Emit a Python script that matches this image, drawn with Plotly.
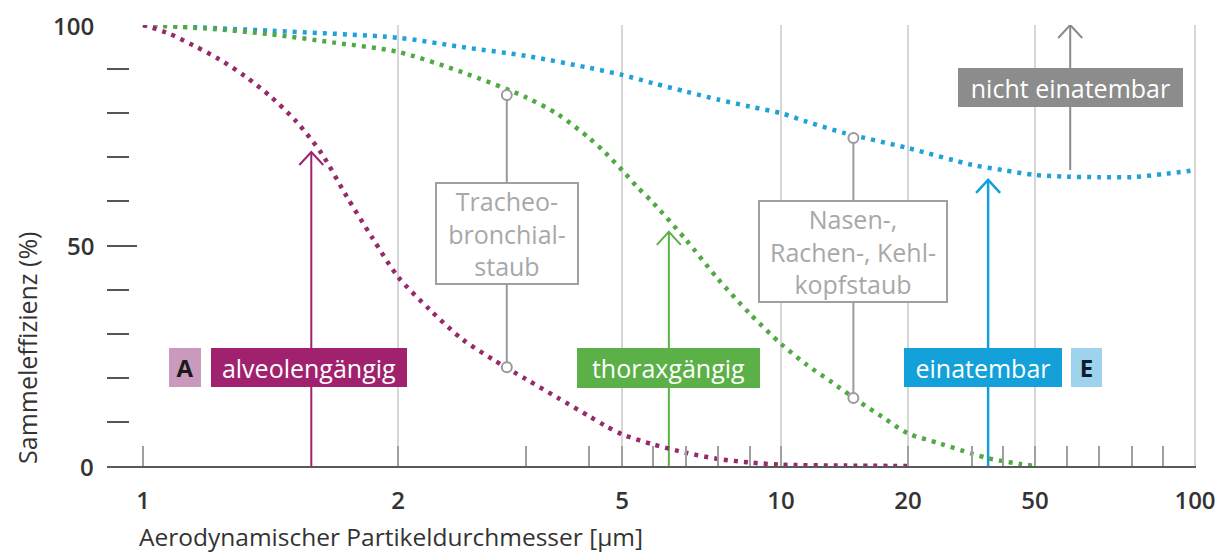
import numpy as np
import plotly.graph_objects as go

# ---------------- data ----------------
X_TICK_D = [1, 2, 5, 10, 20, 50, 100]
X_TICK_TEXT = ["1", "2", "5", "10", "20", "50", "100"]
X_MINOR_D = [3, 4, 6, 7, 8, 9, 30, 40, 60, 70, 80, 90]
GRID_D = [2, 5, 10, 20, 50, 100]
Y_TICKS = [0, 50, 100]
Y_TICK_TEXT = ["0", "50", "100"]
Y_MINOR = [10, 20, 30, 40, 60, 70, 80, 90]

# alveolengängig (respirable)
ALV_D = [1.0, 1.1, 1.2, 1.3, 1.4, 1.5, 1.6, 1.7, 1.8, 1.9, 2.0, 2.25, 2.5, 2.75,
         3.0, 3.5, 4.0, 4.5, 5, 6, 7, 8, 9, 10, 15, 20]
ALV_E = [100, 98.1, 95.3, 92.2, 88.4, 83.8, 78.2, 70.9, 61.0, 51.7, 42.9, 35.4, 28.8, 24.0,
         19.7, 15.5, 11.3, 9.1, 7.2, 4.9, 3.0, 1.6, 0.8, 0.3, 0.1, 0]

# thoraxgängig (thoracic)
THX_D = [1, 1.25, 1.5, 1.75, 2, 2.5, 3, 3.5, 4, 4.5, 5, 5.5, 6, 7, 8, 9, 10,
         12, 14, 16, 18, 20, 25, 30, 35, 40, 45, 50]
THX_E = [100, 99.2, 97.9, 96.0, 93.9, 89.3, 83.6, 79.8, 74.4, 71.0, 67.1, 63.2, 59.7,
         51.3, 42.4, 34.5, 27.7, 23.0, 19.0, 14.9, 11.1, 7.4, 5.1, 2.8, 1.8, 1.1, 0.5, 0]

# einatembar (inhalable)
INH_D = [1, 1.5, 2, 2.5, 3, 4, 5, 6, 7, 8, 9, 10, 12, 15, 20, 30, 40, 50, 60, 70, 80, 90, 100]
INH_E = [100, 98.7, 97.1, 95.0, 93.0, 90.3, 88.7, 86.8, 84.9, 83.1, 81.5, 80.0, 78.1, 75.5,
         72.1, 68.3, 67.1, 66.0, 65.6, 65.5, 65.5, 66.2, 67.1]

# fraction markers (diameter, lower %, upper %)
TRACHEO_D, TRACHEO_LO, TRACHEO_HI = 2.85, 22.4, 84.1
NASEN_D, NASEN_LO, NASEN_HI = 15.7, 15.4, 74.4

# arrows (diameter, tip %)
ARROW_ALV = (1.66, 71.2)
ARROW_THX = (6.48, 53.1)
ARROW_INH = (35.2, 64.9)
ARROW_NOT = (61.0, 67.1, 100.0)   # diameter, start %, tip %

# ---------------- the chart's own (non-logarithmic) x scale ----------------
AXIS_D = [1, 2, 3, 4, 5, 6, 7, 8, 9, 10, 20, 30, 40, 50, 60, 70, 80, 90, 100]
AXIS_POS = [0, 255, 383, 446, 479, 510, 543, 575, 607, 638, 765, 829, 860, 892,
            924, 956, 989, 1020, 1052]
X_RANGE = [-36, 1053]


def xs(d):
    return np.interp(np.asarray(d, dtype=float), AXIS_D, AXIS_POS).tolist()


FONT = "Open Sans"
C_ALV, C_ALV_BOX, C_ALV_LIGHT = "#962A6C", "#A0226E", "#C99ABB"
C_THX, C_THX_BOX = "#52A845", "#5BB147"
C_INH, C_INH_BOX, C_INH_LIGHT = "#1FA2D8", "#14A0D8", "#9DD3EC"
C_GREY_BOX = "#8C8C8C"
C_CONN = "#9A9A9A"
C_TXT = "#333333"

fig = go.Figure()

dot = "4px,6px"
for d, e, c in [(INH_D, INH_E, C_INH), (THX_D, THX_E, C_THX), (ALV_D, ALV_E, C_ALV)]:
    fig.add_trace(go.Scatter(
        x=xs(d), y=e, mode="lines",
        line=dict(color=c, width=4.5, dash=dot, shape="spline", smoothing=0.8),
        cliponaxis=False, hoverinfo="skip"))

# circles at the ends of the fraction connectors
fig.add_trace(go.Scatter(
    x=xs([TRACHEO_D, TRACHEO_D, NASEN_D, NASEN_D]),
    y=[TRACHEO_HI, TRACHEO_LO, NASEN_HI, NASEN_LO],
    mode="markers",
    marker=dict(symbol="circle", size=10, color="white", line=dict(color=C_CONN, width=2)),
    cliponaxis=False, hoverinfo="skip"))

shapes = []
# vertical grid lines
for g in xs(GRID_D):
    shapes.append(dict(type="line", xref="x", yref="y", x0=g, x1=g, y0=0, y1=100,
                       line=dict(color="#C8C8C8", width=1.5), layer="below"))
# connectors
for d, lo, hi in [(TRACHEO_D, TRACHEO_LO, TRACHEO_HI), (NASEN_D, NASEN_LO, NASEN_HI)]:
    xp = xs([d])[0]
    shapes.append(dict(type="line", xref="x", yref="y", x0=xp, x1=xp, y0=lo, y1=hi,
                       line=dict(color=C_CONN, width=2), layer="below"))


def arrow(d, y0, y1, color, width=2):
    xp = xs([d])[0]
    shapes.append(dict(type="line", xref="x", yref="y", x0=xp, x1=xp, y0=y0, y1=y1,
                       line=dict(color=color, width=width), layer="below"))
    shapes.append(dict(type="path", xref="x", yref="y", xsizemode="pixel", ysizemode="pixel",
                       xanchor=xp, yanchor=y1, path="M-12,-13 L0,0 L12,-13",
                       line=dict(color=color, width=width), layer="below"))


arrow(ARROW_ALV[0], 0, ARROW_ALV[1], C_ALV_BOX)
arrow(ARROW_THX[0], 0, ARROW_THX[1], C_THX_BOX)
arrow(ARROW_INH[0], 0, ARROW_INH[1], C_INH_BOX, 2.5)
arrow(ARROW_NOT[0], ARROW_NOT[1], ARROW_NOT[2], "#8A8A8A")

annotations = []


def box(text, d, y, w, h, bg, fg, size=25, weight="normal", border=None, xshift=0):
    annotations.append(dict(
        text=text, xref="x", yref="y", x=xs([d])[0], y=y, xanchor="center", yanchor="middle",
        showarrow=False, width=w, height=h, bgcolor=bg,
        bordercolor=border if border else bg, borderwidth=2 if border else 0, borderpad=0,
        font=dict(family=FONT, size=size, color=fg, weight=weight), align="center",
        xshift=xshift))


ROW_Y = 22.3
box("A", 1.165, ROW_Y, 32, 39, C_ALV_LIGHT, "#1A1A1A", size=24, weight="bold")
box("alveolengängig", ARROW_ALV[0], ROW_Y, 196, 39, C_ALV_BOX, "white", xshift=-2)
box("thoraxgängig", ARROW_THX[0], ROW_Y, 183, 40, C_THX_BOX, "white")
box("einatembar", ARROW_INH[0], ROW_Y, 158, 39, C_INH_BOX, "white", xshift=-5)
box("E", 66.1, ROW_Y, 31, 39, C_INH_LIGHT, "#0D1B2A", size=24, weight="bold")
box("nicht einatembar", ARROW_NOT[0], 85.8, 225, 39, C_GREY_BOX, "white")
box("Tracheo-<br>bronchial-<br>staub", TRACHEO_D, 52.8, 140, 99, "white", "#A8A8A8",
    border="#A0A0A0")
box("Nasen-,<br>Rachen-, Kehl-<br>kopfstaub", NASEN_D, 48.6, 186, 99, "white", "#A8A8A8",
    border="#A0A0A0")

tickfont = dict(family=FONT, size=24, color=C_TXT, weight=600)

# y tick labels (placed beside the inside ticks)
for v, t in zip(Y_TICKS, Y_TICK_TEXT):
    annotations.append(dict(
        text=t, xref="paper", yref="y", x=-0.0101, y=v, xanchor="right", yanchor="middle",
        showarrow=False, font=tickfont))

# axis titles
annotations.append(dict(
    text="Aerodynamischer Partikeldurchmesser [µm]", xref="x", yref="paper",
    x=X_RANGE[0] + 30, y=-0.159, xanchor="left", yanchor="middle", showarrow=False,
    font=dict(family=FONT, size=24.5, color=C_TXT)))
annotations.append(dict(
    text="Sammeleffizienz (%)", xref="paper", yref="y", x=-0.0735, y=0,
    xanchor="center", yanchor="bottom", textangle=-90, showarrow=False,
    font=dict(family=FONT, size=25, color=C_TXT)))

fig.update_layout(
    width=1228, height=553,
    margin=dict(l=107, r=32, t=25, b=87, autoexpand=False),
    plot_bgcolor="white", paper_bgcolor="white",
    showlegend=False,
    shapes=shapes, annotations=annotations,
    xaxis=dict(
        range=X_RANGE, tickmode="array", tickvals=xs(X_TICK_D), ticktext=X_TICK_TEXT,
        ticks="inside", ticklen=20, tickwidth=1.5, tickcolor="#A0A0A0",
        showline=True, linecolor="#5A5A5A", linewidth=2,
        showgrid=False, zeroline=False, tickfont=tickfont, ticklabelstandoff=12,
        minor=dict(tickmode="array", tickvals=xs(X_MINOR_D), ticks="inside", ticklen=20,
                   tickwidth=1.5, tickcolor="#A0A0A0", showgrid=False),
        automargin=False, fixedrange=True),
    yaxis=dict(
        range=[0, 100], tickmode="array", tickvals=Y_TICKS, showticklabels=False,
        ticks="inside", ticklen=30, tickwidth=2, tickcolor="#555555",
        showline=False, showgrid=False, zeroline=False,
        minor=dict(tickmode="array", tickvals=Y_MINOR, ticks="inside", ticklen=22,
                   tickwidth=2, tickcolor="#555555", showgrid=False),
        automargin=False, fixedrange=True),
)

fig.write_html("out.html", config={"displayModeBar": False, "staticPlot": True},
               post_script="document.body.style.margin='0';document.body.style.overflow='hidden';")
